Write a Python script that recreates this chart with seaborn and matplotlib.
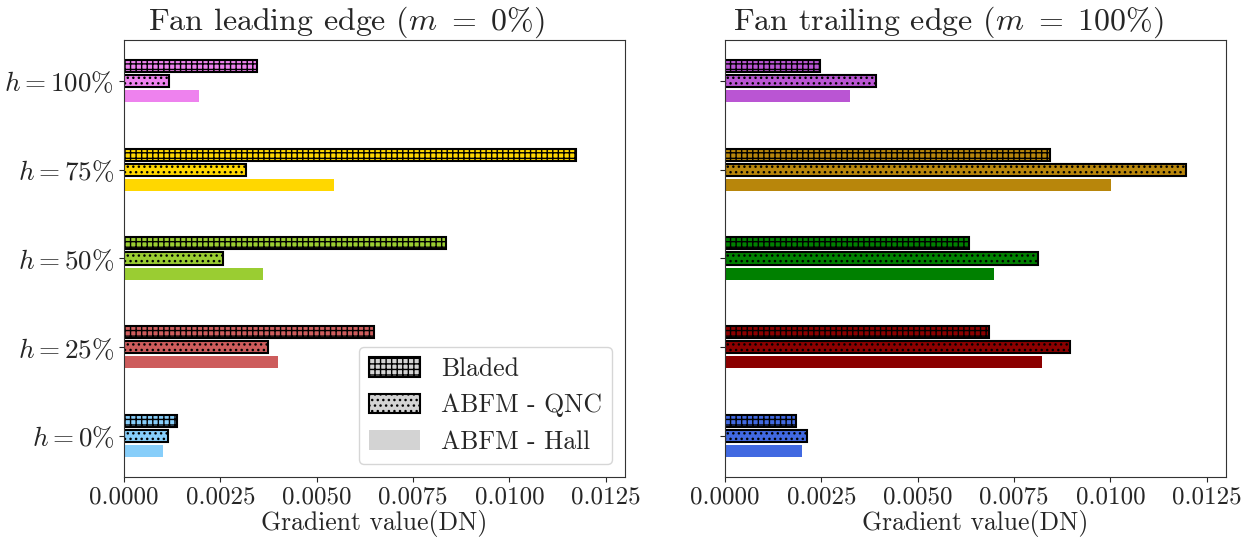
import matplotlib
matplotlib.use("Agg")
import numpy as np
import pandas as pd
import seaborn as sns
import matplotlib.pyplot as plt
from matplotlib.patches import Patch

# ---- data ----
heights = ["$h = 100\\%$", "$h = 75\\%$", "$h = 50\\%$", "$h = 25\\%$", "$h = 0\\%$"]
methods = ["Bladed", "ABFM - QNC", "ABFM - Hall"]

le_bladed = [0.00345, 0.01172, 0.00836, 0.00648, 0.00138]
le_qnc = [0.00118, 0.00316, 0.00258, 0.00373, 0.00113]
le_hall = [0.00194, 0.00545, 0.00361, 0.00399, 0.00101]

te_bladed = [0.00246, 0.00844, 0.00633, 0.00686, 0.00183]
te_qnc = [0.00391, 0.01196, 0.00813, 0.00896, 0.00213]
te_hall = [0.00325, 0.01002, 0.00699, 0.00823, 0.00201]

le_colors = ["violet", "gold", "yellowgreen", "indianred", "lightskyblue"]
te_colors = ["mediumorchid", "darkgoldenrod", "green", "darkred", "royalblue"]

titles = ["Fan leading edge ($m\\ =\\ 0\\%$)", "Fan trailing edge ($m\\ =\\ 100\\%$)"]
xlabel = "Gradient value(DN)"
xtick_vals = [0, 0.0025, 0.005, 0.0075, 0.01, 0.0125]
xtick_labels = ["0.0000", "0.0025", "0.0050", "0.0075", "0.0100", "0.0125"]
hatches = ["+++", "...", None]

sns.set_style("ticks")
plt.rcParams["font.family"] = ["cmr10", "DejaVu Serif"]
plt.rcParams["mathtext.fontset"] = "cm"
plt.rcParams["axes.formatter.use_mathtext"] = True
plt.rcParams["hatch.linewidth"] = 1.0
plt.rcParams["axes.unicode_minus"] = False


def make_df(b, q, h):
    rows = []
    for vals, m in zip([b, q, h], methods):
        for cat, v in zip(heights, vals):
            rows.append({"height": cat, "method": m, "value": v})
    return pd.DataFrame(rows)


fig = plt.figure(figsize=(12.5, 5.41), dpi=100)
ax1 = fig.add_axes([0.0992, 0.1183, 0.4008, 0.8078])
ax2 = fig.add_axes([0.58, 0.1183, 0.4008, 0.8078], sharey=ax1)

panels = [
    (ax1, make_df(le_bladed, le_qnc, le_hall), le_colors, titles[0]),
    (ax2, make_df(te_bladed, te_qnc, te_hall), te_colors, titles[1]),
]

for ax, df, cols, title in panels:
    sns.barplot(data=df, y="height", x="value", hue="method", order=heights,
                hue_order=methods, orient="h", width=0.51, gap=0.2,
                ax=ax, legend=False, saturation=1)
    for i, cont in enumerate(ax.containers):
        for j, bar in enumerate(cont):
            bar.set_facecolor(cols[j])
            if hatches[i]:
                bar.set_hatch(hatches[i])
                bar.set_edgecolor("black")
                bar.set_linewidth(1.5)
            else:
                bar.set_edgecolor(cols[j])
                bar.set_linewidth(0)
    ax.set_xlim(0, 0.013)
    ax.set_ylim(4.46, -0.46)
    ax.set_xticks(xtick_vals)
    ax.set_xticklabels(xtick_labels)
    ax.set_title(title, fontsize=23, pad=5, x=0.445)
    ax.set_xlabel(xlabel, fontsize=18.5, labelpad=1)
    ax.set_ylabel("")
    ax.tick_params(axis="x", labelsize=18)
    ax.tick_params(axis="y", labelsize=19.5)
    for sp in ax.spines.values():
        sp.set_visible(True)
        sp.set_color("#333333")

ax2.tick_params(axis="y", labelleft=False)

handles = [
    Patch(facecolor="lightgray", edgecolor="black", hatch="+++", linewidth=1.5, label=methods[0]),
    Patch(facecolor="lightgray", edgecolor="black", hatch="...", linewidth=1.5, label=methods[1]),
    Patch(facecolor="lightgray", edgecolor="lightgray", linewidth=0, label=methods[2]),
]
ax1.legend(handles=handles, loc="lower right", fontsize=18.5, handlelength=2.0,
           handleheight=0.8, labelspacing=0.5, frameon=True)

fig.savefig("out.png", dpi=100)
